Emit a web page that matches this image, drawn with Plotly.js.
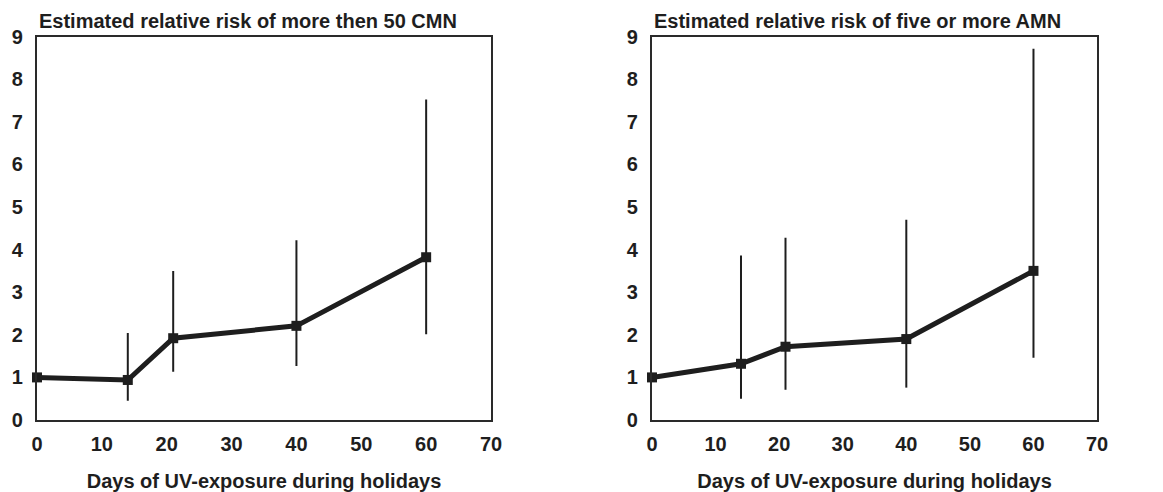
<!DOCTYPE html>
<html>
<head>
<meta charset="utf-8">
<script src="https://cdn.plot.ly/plotly-3.0.1.min.js"></script>
<style>
html,body{margin:0;padding:0;background:#fff;}
#chart{width:1163px;height:492px;}
</style>
</head>
<body>
<div id="chart"></div>
<script>
// Data
const days = [0, 14, 21, 40, 60];
const cmnRR = [1.0, 0.94, 1.92, 2.21, 3.82];
const cmnUpper = [1.0, 2.04, 3.50, 4.22, 7.52];
const cmnLower = [1.0, 0.45, 1.13, 1.27, 2.01];
const amnRR = [1.0, 1.32, 1.72, 1.90, 3.50];
const amnUpper = [1.0, 3.86, 4.28, 4.70, 8.71];
const amnLower = [1.0, 0.50, 0.71, 0.76, 1.46];
const xTicks = [0, 10, 20, 30, 40, 50, 60, 70];
const yTicks = [0, 1, 2, 3, 4, 5, 6, 7, 8, 9];
const titleLeft = "Estimated relative risk of more then 50 CMN";
const titleRight = "Estimated relative risk of five or more AMN";
const xTitle = "Days of UV-exposure during holidays";

const ink = "#1e1e1e";
const FONT = "Liberation Sans, Arial, sans-serif";
const FS = 20;

function trace(rr, up, lo, xa, ya) {
  return {
    x: days, y: rr, xaxis: xa, yaxis: ya,
    type: "scatter", mode: "lines+markers",
    line: {color: ink, width: 5},
    marker: {symbol: "square", size: 10, color: ink},
    cliponaxis: false,
    error_y: {
      type: "data", symmetric: false,
      array: up.map((u, i) => u - rr[i]),
      arrayminus: rr.map((r, i) => r - lo[i]),
      width: 0, thickness: 2, color: ink
    },
    showlegend: false, hoverinfo: "x+y"
  };
}

const axX = (dom) => ({
  domain: dom, range: [0, 70], tickvals: xTicks, ticktext: xTicks.map(String),
  showgrid: false, zeroline: false, showline: true, mirror: true,
  linecolor: "#2a2a2a", linewidth: 2, ticks: "", ticklabelstandoff: 5,
  tickfont: {family: FONT, size: FS, color: ink, weight: "bold"},
  title: {text: xTitle, standoff: 22, font: {family: FONT, size: FS, color: ink, weight: "bold"}},
  automargin: false, fixedrange: true
});
const axY = (anchor) => ({
  domain: [0.1463, 0.9258], range: [0, 9], tickvals: yTicks, ticktext: yTicks.map(String),
  anchor: anchor,
  showgrid: false, zeroline: false, showline: true, mirror: true,
  linecolor: "#2a2a2a", linewidth: 2, ticks: "", ticklabelstandoff: 8,
  tickfont: {family: FONT, size: FS, color: ink, weight: "bold"},
  automargin: false, fixedrange: true
});

const xa1 = axX([0.0318, 0.4222]); xa1.anchor = "y";
const xa2 = axX([0.5606, 0.9433]); xa2.anchor = "y2";

const layout = {
  width: 1163, height: 492,
  margin: {l: 0, r: 0, t: 0, b: 0},
  paper_bgcolor: "#fff", plot_bgcolor: "#fff",
  font: {family: FONT, color: ink},
  xaxis: xa1, yaxis: axY("x"),
  xaxis2: xa2, yaxis2: axY("x2"),
  annotations: [
    {text: titleLeft, xref: "paper", yref: "paper", x: 0.0318, y: 0.957, xanchor: "left", yanchor: "middle",
     showarrow: false, font: {family: FONT, size: FS, color: ink, weight: "bold"}},
    {text: titleRight, xref: "paper", yref: "paper", x: 0.5606, y: 0.957, xanchor: "left", yanchor: "middle",
     showarrow: false, font: {family: FONT, size: FS, color: ink, weight: "bold"}}
  ]
};

Plotly.newPlot("chart", [
  trace(cmnRR, cmnUpper, cmnLower, "x", "y"),
  trace(amnRR, amnUpper, amnLower, "x2", "y2")
], layout, {displayModeBar: false, staticPlot: true});
</script>
</body>
</html>
